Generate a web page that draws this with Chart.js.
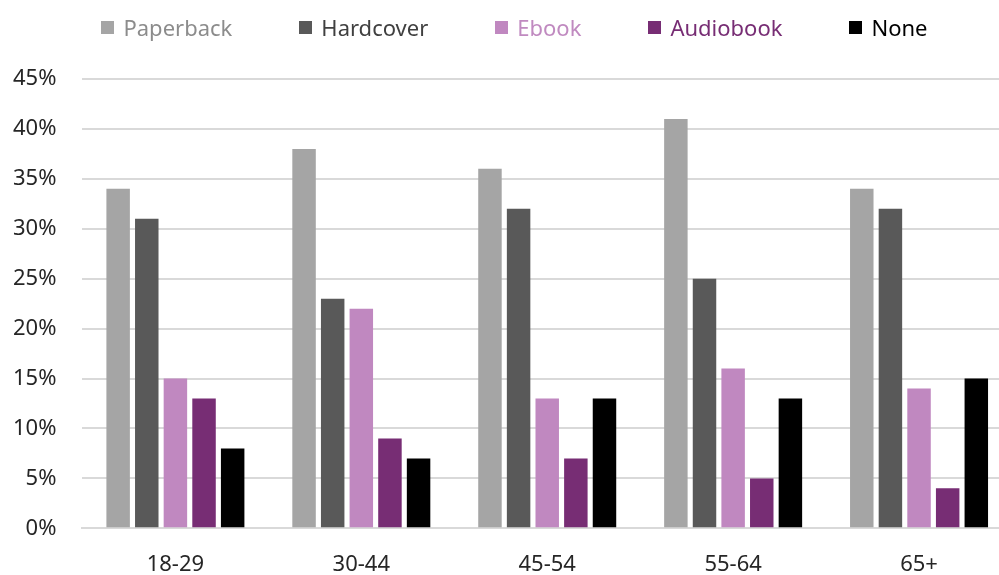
<!DOCTYPE html>
<html>
<head>
<meta charset="utf-8">
<script src="https://cdn.jsdelivr.net/npm/chart.js@4"></script>
<style>
  html, body { margin: 0; padding: 0; background: #fff; overflow: hidden; }
  #wrap { position: relative; width: 999px; height: 575px; overflow: hidden; }
  #c { position: absolute; left: 0; top: 0; }
  #legend {
    position: absolute; top: 12px; left: 30px; width: 969px; height: 30px; z-index: 1;
    display: flex; justify-content: center; align-items: center; gap: 67px;
    font-family: "Noto Sans", sans-serif; font-size: 22px;
  }
  #legend span.item { display: flex; align-items: center; white-space: nowrap; }
  #legend span.box { display: inline-block; width: 13px; height: 13px; margin-right: 9px; }
</style>
</head>
<body>
<div id="wrap">
  <!-- 원본은 플롯 영역 오른쪽이 잘려 있어서 캔버스를 조금 더 넓게 -->
  <canvas id="c" width="1012" height="575"></canvas>
  <div id="legend"></div>
</div>
<script>
// 연령대별 책 형태 선호 (%)
const ageGroups = ['18-29', '30-44', '45-54', '55-64', '65+'];
const seriesNames = ['Paperback', 'Hardcover', 'Ebook', 'Audiobook', 'None'];
const paperback = [34, 38, 36, 41, 34];
const hardcover = [31, 23, 32, 25, 32];
const ebook = [15, 22, 13, 16, 14];
const audiobook = [13, 9, 7, 5, 4];
const none = [8, 7, 13, 13, 15];
const yTicks = [0, 5, 10, 15, 20, 25, 30, 35, 40, 45];

const barColors = ['#a5a5a5', '#595959', '#c088c0', '#772d74', '#000000'];
const textColors = ['#8c8c8c', '#404040', '#c08ac0', '#772d74', '#000000'];
const seriesValues = [paperback, hardcover, ebook, audiobook, none];

// 범례는 HTML로 (항목 간격 맞추기 위함)
const legendEl = document.getElementById('legend');
seriesNames.forEach((name, i) => {
  const item = document.createElement('span');
  item.className = 'item';
  item.style.color = textColors[i];
  const box = document.createElement('span');
  box.className = 'box';
  box.style.background = barColors[i];
  item.appendChild(box);
  item.appendChild(document.createTextNode(name));
  legendEl.appendChild(item);
});

const font = { family: '"Noto Sans", sans-serif', size: 22 };

new Chart(document.getElementById('c').getContext('2d'), {
  type: 'bar',
  data: {
    labels: ageGroups,
    datasets: seriesNames.map((name, i) => ({
      label: name,
      data: seriesValues[i],
      backgroundColor: barColors[i],
      borderWidth: 0,
      categoryPercentage: 0.77,
      barPercentage: 0.82,
    })),
  },
  options: {
    responsive: false,
    animation: false,
    layout: { padding: { top: 79, right: 0, bottom: -26, left: -13 } },
    plugins: {
      legend: { display: false },
      tooltip: { enabled: false },
    },
    scales: {
      x: {
        grid: { display: false, drawTicks: false, tickLength: 0 },
        border: { color: '#d9d9d9', width: 2 },
        ticks: { color: '#262626', font: { family: font.family, size: 22, lineHeight: 0.85 }, padding: 27 },
      },
      y: {
        min: 0,
        max: 45,
        afterBuildTicks: axis => { axis.ticks = yTicks.map(v => ({ value: v })); },
        grid: { color: '#d9d9d9', lineWidth: 2, drawTicks: false, tickLength: 0 },
        border: { display: false },
        ticks: { color: '#262626', font: font, padding: 26, callback: v => v + '%' },
      },
    },
  },
});
</script>
</body>
</html>
